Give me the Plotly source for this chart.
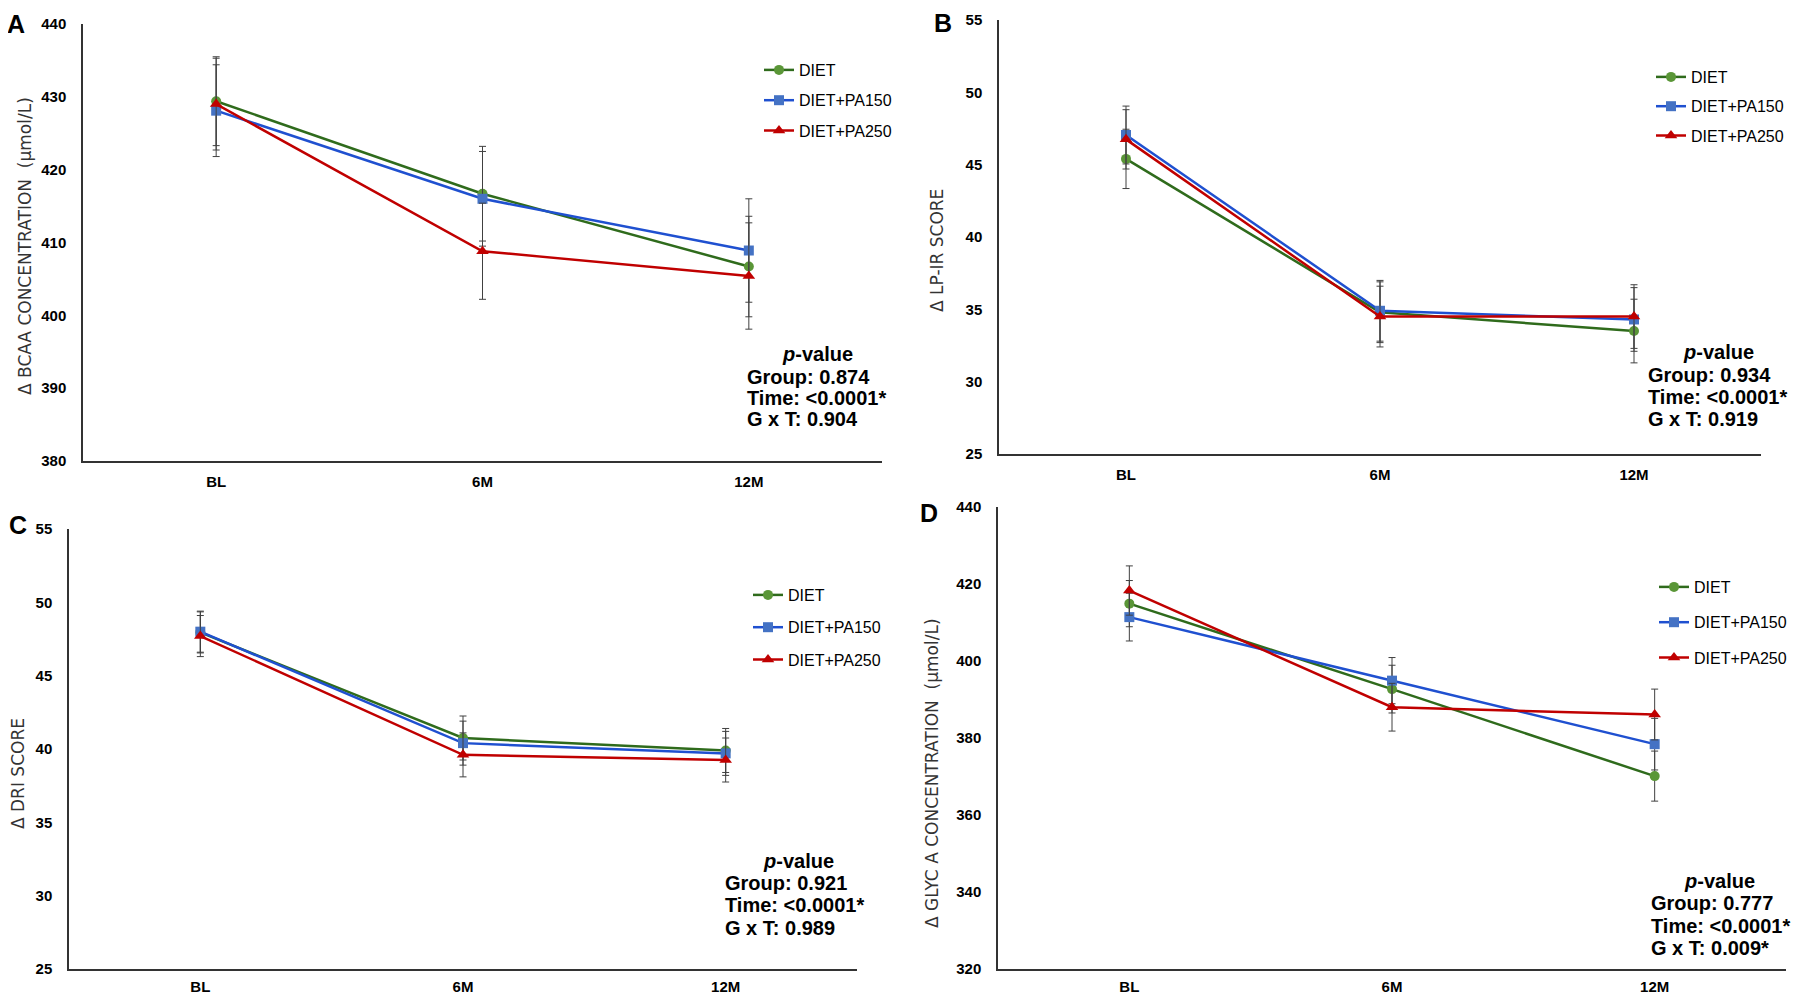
import plotly.graph_objects as go

# page has an 8px body margin; keep the figure inside the 1800x1005 window
OFF = 8
W, H = 1800 - 2 * OFF, 1005 - 2 * OFF

timepoints = ["BL", "6M", "12M"]
groups = ["DIET", "DIET+PA150", "DIET+PA250"]

# Panel A: BCAA concentration (µmol/L)
bcaa_diet = [429.4, 416.7, 406.7]
bcaa_diet_err = [6.1, 6.5, 6.9]
bcaa_pa150 = [428.1, 416.0, 408.9]
bcaa_pa150_err = [6.3, 6.5, 7.1]
bcaa_pa250 = [429.0, 408.8, 405.4]
bcaa_pa250_err = [6.3, 6.6, 7.3]

# Panel B: LP-IR score
lpir_diet = [45.4, 34.8, 33.5]
lpir_diet_err = [2.05, 2.1, 2.2]
lpir_pa150 = [47.05, 34.9, 34.3]
lpir_pa150_err = [2.0, 2.1, 2.2]
lpir_pa250 = [46.75, 34.5, 34.5]
lpir_pa250_err = [2.05, 2.1, 2.2]

# Panel C: DRI score
dri_diet = [47.95, 40.75, 39.9]
dri_diet_err = [1.4, 1.5, 1.5]
dri_pa150 = [48.0, 40.4, 39.7]
dri_pa150_err = [1.4, 1.5, 1.5]
dri_pa250 = [47.7, 39.6, 39.25]
dri_pa250_err = [1.4, 1.5, 1.5]

# Panel D: GlycA concentration (µmol/L)
glyca_diet = [414.9, 392.7, 370.1]
glyca_diet_err = [6.0, 6.2, 6.5]
glyca_pa150 = [411.4, 394.9, 378.4]
glyca_pa150_err = [6.2, 6.0, 6.7]
glyca_pa250 = [418.3, 388.0, 386.1]
glyca_pa250_err = [6.4, 6.2, 6.6]

panel_letters = ["A", "B", "C", "D"]
y_titles = ["\u0394 BCAA CONCENTRATION  (\u03bcmol/L)", "\u0394 LP-IR SCORE",
            "\u0394 DRI SCORE", "\u0394 GLYC A CONCENTRATION  (\u03bcmol/L)"]
y_ranges = [[380, 440], [25, 55], [25, 55], [320, 440]]
y_dticks = [10, 5, 5, 20]
pvalues = [
    ["0.874", "<0.0001*", "0.904"],
    ["0.934", "<0.0001*", "0.919"],
    ["0.921", "<0.0001*", "0.989"],
    ["0.777", "<0.0001*", "0.009*"],
]

panel_series = [
    [(bcaa_diet, bcaa_diet_err), (bcaa_pa150, bcaa_pa150_err), (bcaa_pa250, bcaa_pa250_err)],
    [(lpir_diet, lpir_diet_err), (lpir_pa150, lpir_pa150_err), (lpir_pa250, lpir_pa250_err)],
    [(dri_diet, dri_diet_err), (dri_pa150, dri_pa150_err), (dri_pa250, dri_pa250_err)],
    [(glyca_diet, glyca_diet_err), (glyca_pa150, glyca_pa150_err), (glyca_pa250, glyca_pa250_err)],
]

line_colors = ["#2f6b1c", "#1f50d0", "#c00000"]
marker_colors = ["#5a9637", "#4472c4", "#c00000"]
marker_symbols = ["circle", "square", "triangle-up"]
marker_sizes = [10, 10, 11]

# layout geometry (screen pixels)
boxes = [  # x0, x1, ytop, ybottom
    (83, 882, 24, 461),
    (999, 1761, 20, 454),
    (69, 857, 529, 969),
    (998, 1786, 507, 969),
]
xlabel_standoff = [6, 6, 3, 3]
legend_pos = [(759, 53, 6.5), (1651, 60, 5.5), (748, 578, 8.5), (1654, 570, 11.5)]
letter_pos = [(16, 24), (943, 23), (18, 525), (929, 513)]
ytitle_pos = [(25, 246), (937, 251), (18, 774), (932, 773)]
# p-value header centre x, header y, left x of stats, y of 3 stats lines
pval_pos = [
    (817, 354, 745, [377, 398, 419]),
    (1718, 352, 1646, [375, 397, 419]),
    (798, 861, 723, [883, 905, 928]),
    (1719, 881, 1649, [903, 926, 948]),
]

FONT = "Liberation Sans, Arial, sans-serif"


def fx(px):
    return (px - OFF) / W


def fy(py):
    return 1 - (py - OFF) / H


fig = go.Figure()
layout = dict(
    width=W, height=H, autosize=False,
    margin=dict(l=0, r=0, t=0, b=0, autoexpand=False),
    paper_bgcolor="white", plot_bgcolor="white",
    font=dict(family=FONT, color="#000"),
    showlegend=True,
)
annotations = []

for p in range(4):
    sfx = "" if p == 0 else str(p + 1)
    xa, ya = "x" + sfx, "y" + sfx
    leg = "legend" + sfx
    for g in range(3):
        vals, errs = panel_series[p][g]
        fig.add_trace(go.Scatter(
            x=list(range(len(timepoints))), y=vals,
            mode="lines+markers", name=groups[g],
            xaxis=xa, yaxis=ya, legend=leg,
            legendgroup=f"{p}_{g}",
            line=dict(color=line_colors[g], width=2.5),
            marker=dict(color=marker_colors[g], symbol=marker_symbols[g], size=marker_sizes[g]),
            error_y=dict(type="data", array=errs, visible=True, color="#404040", thickness=1, width=3.5),
            hoverinfo="x+y+name",
        ))
    x0, x1, yt, yb = boxes[p]
    layout["xaxis" + sfx] = dict(
        domain=[fx(x0), fx(x1)], anchor=ya, range=[-0.5, 2.5],
        tickmode="array", tickvals=list(range(len(timepoints))), ticktext=timepoints,
        showgrid=False, zeroline=False, showline=True, linecolor="#333", linewidth=1.5,
        ticks="", ticklabelstandoff=xlabel_standoff[p],
        tickfont=dict(family=FONT, size=15, color="#000", weight="bold"),
        fixedrange=True,
    )
    layout["yaxis" + sfx] = dict(
        domain=[fy(yb), fy(yt)], anchor=xa, range=y_ranges[p], dtick=y_dticks[p], tick0=0,
        showgrid=False, zeroline=False, showline=True, linecolor="#333", linewidth=1.5,
        ticks="", ticklabelstandoff=12,
        tickfont=dict(family=FONT, size=15, color="#000", weight="bold"),
        fixedrange=True,
    )
    lx, ly, gap = legend_pos[p]
    layout[leg] = dict(
        x=fx(lx), y=fy(ly), xanchor="left", yanchor="top", xref="paper", yref="paper",
        bgcolor="rgba(0,0,0,0)", borderwidth=0, tracegroupgap=gap, traceorder="grouped",
        itemwidth=30, font=dict(family=FONT, size=16, color="#000"),
    )
    # panel letter
    lxp, lyp = letter_pos[p]
    annotations.append(dict(
        text=f"<b>{panel_letters[p]}</b>", x=fx(lxp), y=fy(lyp), xref="paper", yref="paper",
        showarrow=False, xanchor="center", yanchor="middle",
        font=dict(family=FONT, size=25, color="#000"),
    ))
    # y title
    tx, ty = ytitle_pos[p]
    annotations.append(dict(
        text=y_titles[p], x=fx(tx), y=fy(ty), xref="paper", yref="paper",
        showarrow=False, textangle=-90, xanchor="center", yanchor="middle",
        font=dict(family="DejaVu Sans, sans-serif", size=17, color="#333333"),
    ))
    # p-values
    pcx, pcy, pleft, lines_y = pval_pos[p]
    annotations.append(dict(
        text="<b><i>p</i>-value</b>", x=fx(pcx), y=fy(pcy), xref="paper", yref="paper",
        showarrow=False, xanchor="center", yanchor="middle",
        font=dict(family=FONT, size=20, color="#000"),
    ))
    gv, tv, gxt = pvalues[p]
    for txt, yy in zip([f"Group: {gv}", f"Time: {tv}", f"G x T: {gxt}"], lines_y):
        annotations.append(dict(
            text=f"<b>{txt}</b>", x=fx(pleft), y=fy(yy), xref="paper", yref="paper",
            showarrow=False, xanchor="left", yanchor="middle", align="left",
            font=dict(family=FONT, size=20, color="#000"),
        ))

layout["annotations"] = annotations
fig.update_layout(**layout)
fig.write_html("out.html", config={"displayModeBar": False})
